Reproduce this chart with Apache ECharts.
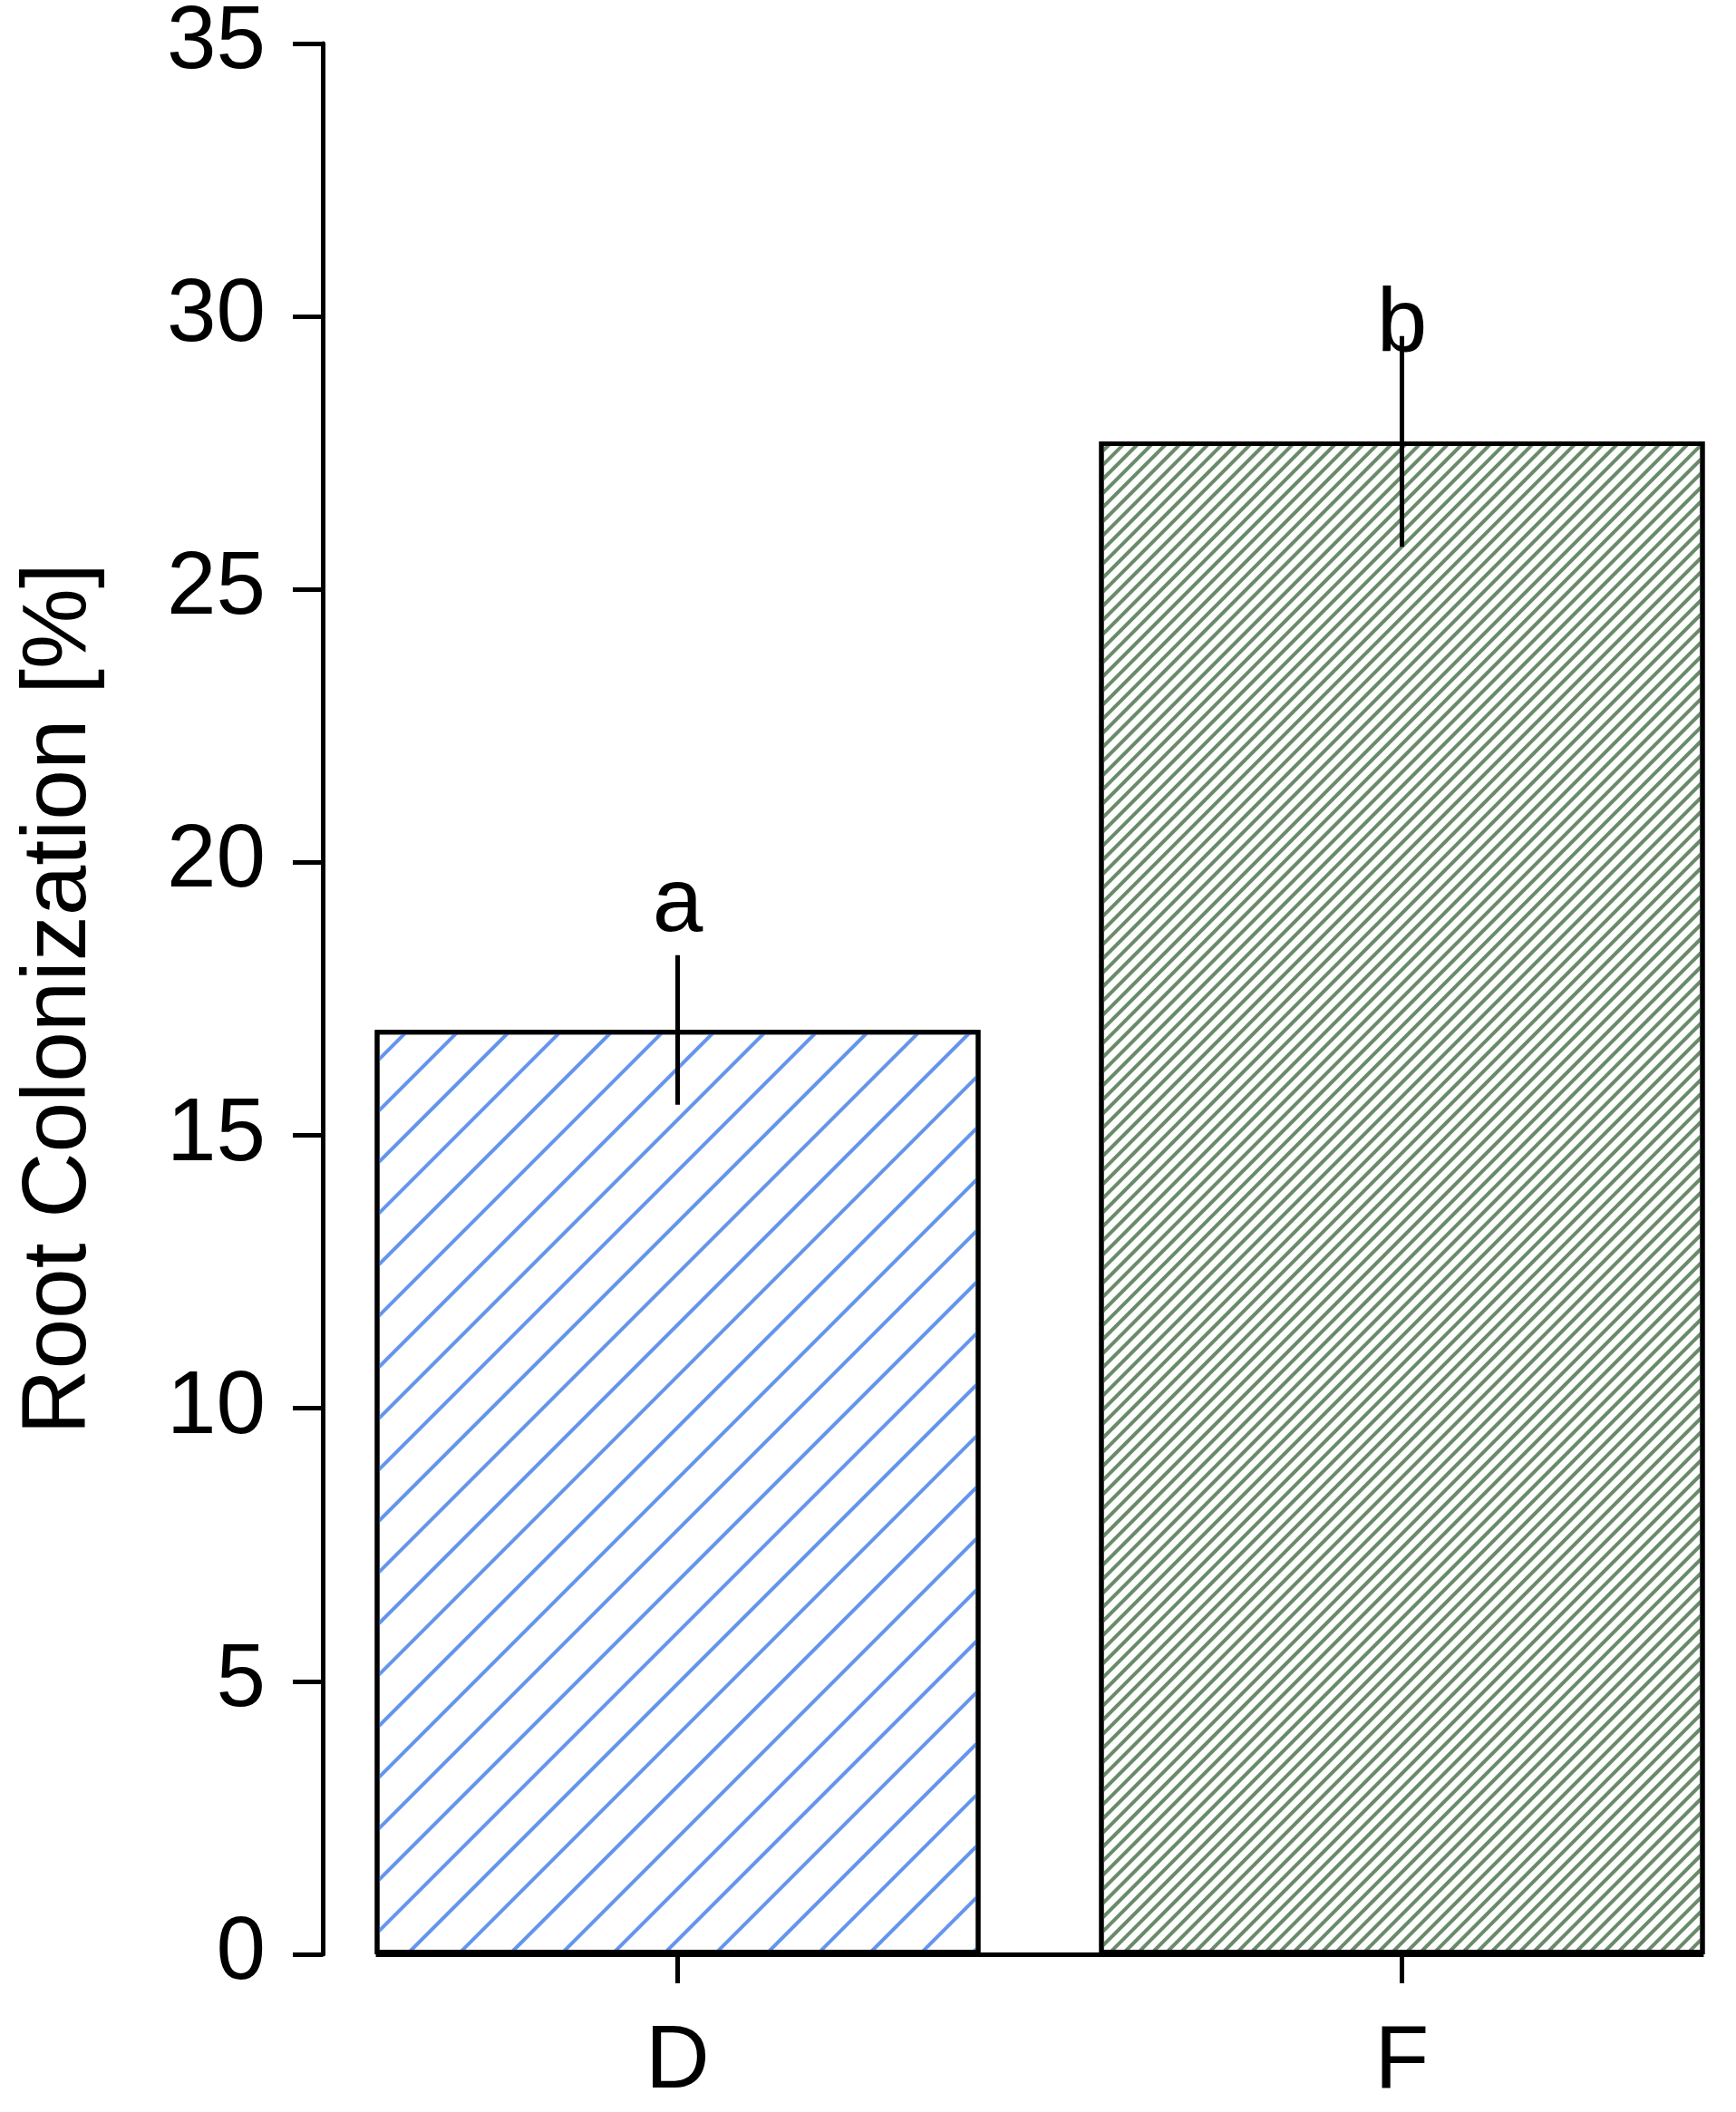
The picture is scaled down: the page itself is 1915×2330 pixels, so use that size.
<!DOCTYPE html>
<html>
<head>
<meta charset="utf-8">
<script src="https://cdn.jsdelivr.net/npm/echarts@6/dist/echarts.min.js"></script>
<style>
  html, body { margin: 0; padding: 0; background: #fff; }
  #chart { width: 1915px; height: 2330px; }
</style>
</head>
<body>
<div id="chart"></div>
<script>
// data
const categories = ['D', 'F']
const colonization = [16.93, 27.71]
const stdErr = [1.37, 1.93]
const letters = ['a', 'b']
const letterHeight = [19.21, 29.82]
const yTicks = { min: 0, max: 35, step: 5 }

const font = '"Liberation Sans", Arial, sans-serif'
const hatchColors = ['#6495ED', '#698B69']
const hatchSpacing = [[4, 36], [4, 7]]

// barplot style x positions: width 1, space 0.2, 4% padding either side
const barPos = categories.map((c, i) => 0.2 + i * 1.2 + 0.5)
const barLeft = barPos[0] - 0.5
const barRight = barPos[barPos.length - 1] + 0.5
const pad = (barRight - barLeft) * 0.04
const xMin = barLeft - pad
const xMax = barRight + pad

const chart = echarts.init(document.getElementById('chart'))

const option = {
    backgroundColor: '#fff',
    animation: false,
    grid: {
        left: 356,
        top: 48,
        width: 1582,
        height: 2108,
        outerBoundsMode: 'none',
        containLabel: false
    },
    xAxis: {
        type: 'value',
        min: xMin,
        max: xMax,
        axisLine: { show: false },
        splitLine: { show: false },
        axisTick: {
            customValues: barPos,
            length: 32,
            lineStyle: { color: '#000', width: 5 }
        },
        axisLabel: {
            customValues: barPos,
            margin: 71,
            fontSize: 98,
            fontFamily: font,
            color: '#000',
            formatter (v) {
                let best = 0
                barPos.forEach((p, i) => {
                    if (Math.abs(p - v) < Math.abs(barPos[best] - v)) best = i
                })
                return categories[best]
            }
        }
    },
    yAxis: {
        type: 'value',
        min: yTicks.min,
        max: yTicks.max,
        interval: yTicks.step,
        name: 'Root Colonization [%]',
        nameLocation: 'middle',
        nameRotate: 90,
        nameGap: 240,
        nameTextStyle: { fontSize: 100, fontFamily: font, color: '#000' },
        axisLine: { show: true, lineStyle: { color: '#000', width: 5 } },
        axisTick: { show: true, length: 33, lineStyle: { color: '#000', width: 5 } },
        axisLabel: { margin: 63, fontSize: 98, fontFamily: font, color: '#000' },
        splitLine: { show: false }
    },
    series: [
        {
            type: 'bar',
            barWidth: 668,
            data: colonization.map((v, i) => ({
                value: [barPos[i], v],
                itemStyle: {
                    color: '#fff',
                    borderColor: '#000',
                    borderWidth: 5,
                    decal: {
                        symbol: 'rect',
                        symbolSize: 1,
                        dashArrayX: [1, 0],
                        dashArrayY: hatchSpacing[i],
                        rotation: -Math.PI / 4,
                        color: hatchColors[i]
                    }
                }
            })),
            markLine: {
                silent: true,
                symbol: 'none',
                label: { show: false },
                lineStyle: { color: '#000', width: 5, type: 'solid' },
                data: [[{ coord: [barLeft, 0] }, { coord: [barRight, 0] }]]
            }
        },
        {
            // error bars, no caps
            type: 'custom',
            data: colonization.map((v, i) => [barPos[i], v - stdErr[i], v + stdErr[i]]),
            renderItem (params, api) {
                const lo = api.coord([api.value(0), api.value(1)])
                const hi = api.coord([api.value(0), api.value(2)])
                return {
                    type: 'line',
                    shape: { x1: lo[0], y1: lo[1], x2: hi[0], y2: hi[1] },
                    style: { stroke: '#000', lineWidth: 5 }
                }
            },
            z: 5
        },
        {
            type: 'custom',
            data: letterHeight.map((h, i) => [barPos[i], h]),
            renderItem (params, api) {
                const p = api.coord([api.value(0), api.value(1)])
                return {
                    type: 'text',
                    x: p[0],
                    y: p[1],
                    style: {
                        text: letters[params.dataIndex],
                        fontSize: 100,
                        fontFamily: font,
                        fill: '#000',
                        align: 'center',
                        verticalAlign: 'middle'
                    }
                }
            },
            z: 6
        }
    ]
}

chart.setOption(option)
</script>
</body>
</html>
